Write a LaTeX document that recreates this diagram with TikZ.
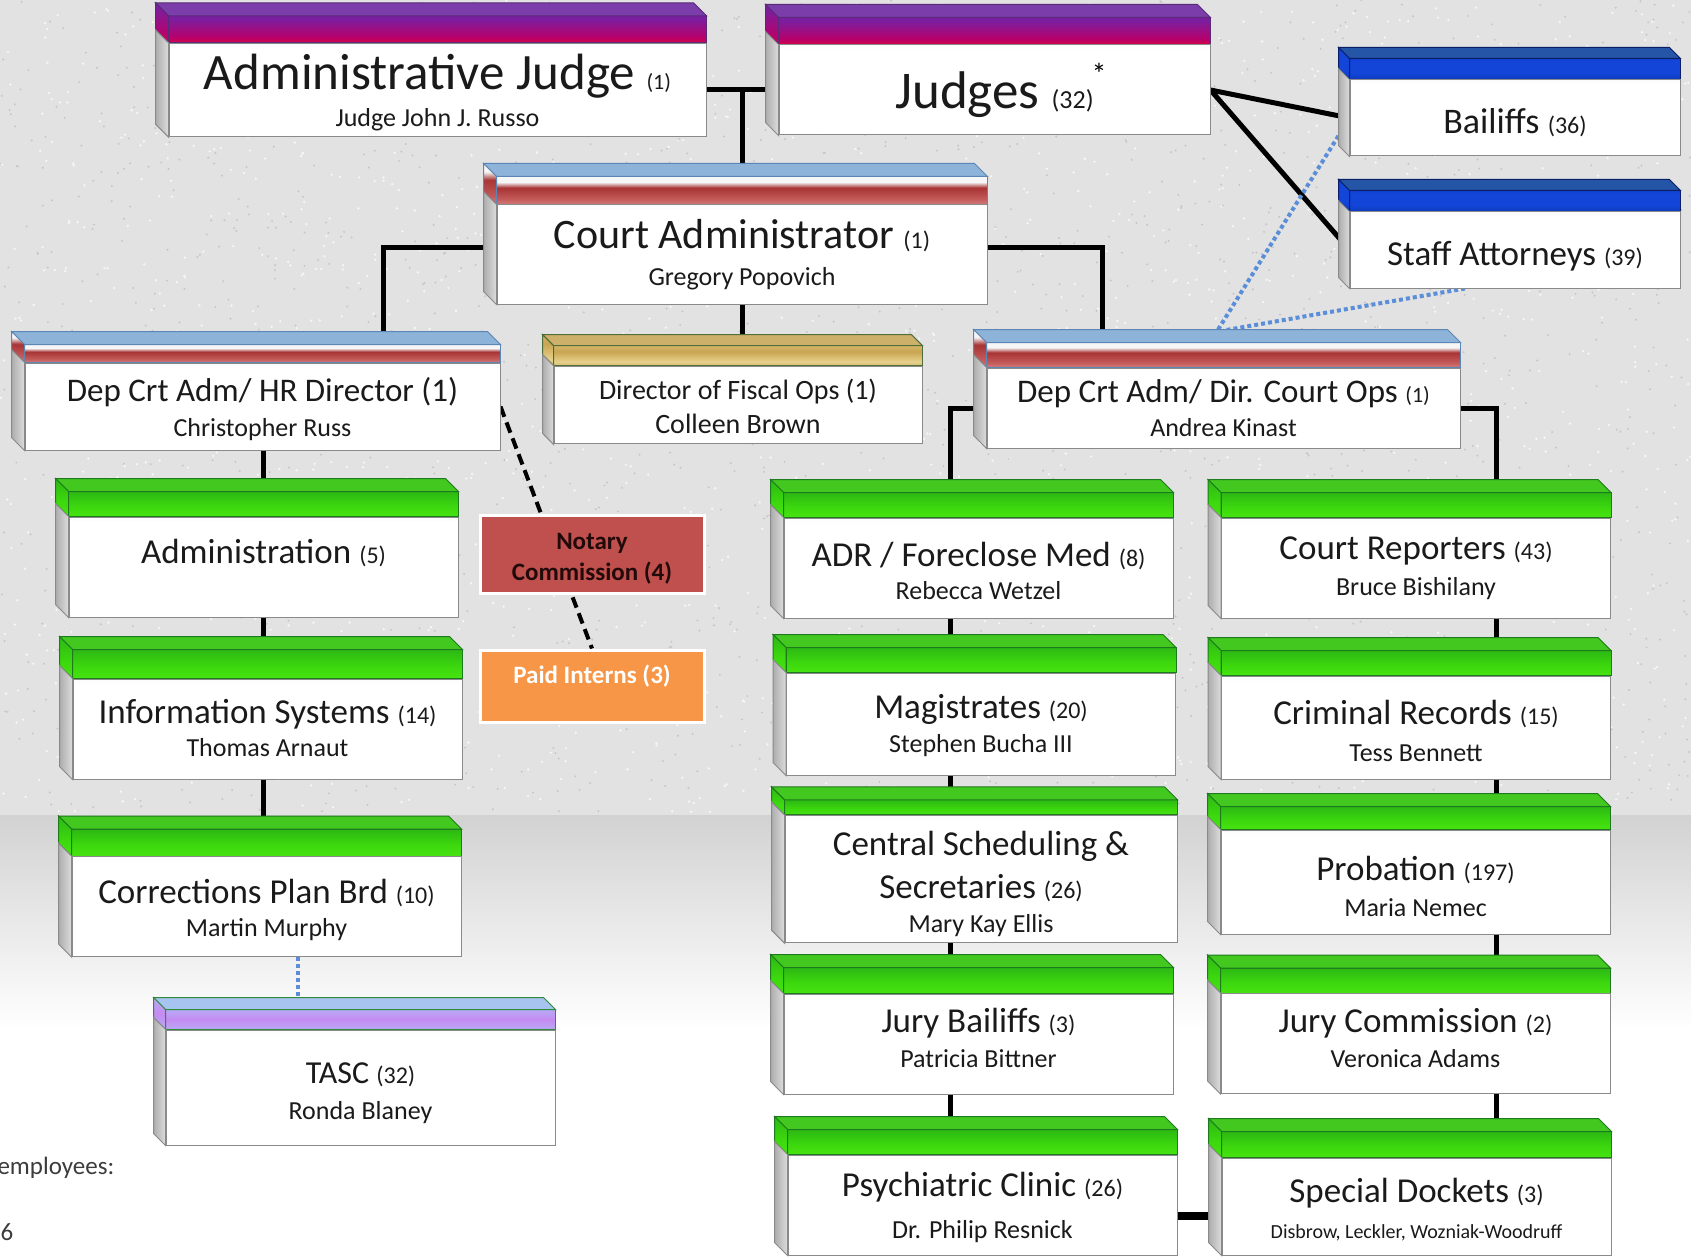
\documentclass[tikz,border=0pt]{standalone}
\usepackage{fontspec}
\setmainfont{Carlito}
\usetikzlibrary{positioning,calc}

\definecolor{granite}{HTML}{E2E2E2}
\definecolor{speckdark}{HTML}{C6C6C6}
\definecolor{specklight}{HTML}{F7F7F7}
\definecolor{lowgrey}{HTML}{D2D2D2}
\definecolor{sidedark}{HTML}{ADADAD}
\definecolor{sidelight}{HTML}{DCDCDC}
\definecolor{boxline}{HTML}{8A8A8A}
\definecolor{bodymid}{HTML}{ECECEC}
\definecolor{bodytop}{HTML}{B8B8B8}
\definecolor{ink}{HTML}{1A1A1A}
\definecolor{dotblue}{HTML}{5A8ED8}
\definecolor{notaryred}{HTML}{C0504D}
\definecolor{notaryink}{HTML}{220A0A}
\definecolor{internorange}{HTML}{F79646}
% header colours
\definecolor{judgeA}{HTML}{E8401C}\definecolor{judgeB}{HTML}{FF0A0A}
\definecolor{judgeC}{HTML}{B8006A}\definecolor{judgeD}{HTML}{7A1FA0}
\definecolor{judgeface}{HTML}{7B3DAA}\definecolor{judgeedge}{HTML}{5A2A78}
\definecolor{blueA}{HTML}{0A2C8C}\definecolor{blueB}{HTML}{1245D8}
\definecolor{blueC}{HTML}{0A2080}
\definecolor{blueface}{HTML}{2455A6}\definecolor{blueedge}{HTML}{0A1E66}
\definecolor{caA}{HTML}{9CC3E3}\definecolor{caB}{HTML}{EAB4B4}
\definecolor{caC}{HTML}{C45A5A}\definecolor{caD}{HTML}{A83434}
\definecolor{caE}{HTML}{F6F6F6}\definecolor{caF}{HTML}{A3C3E2}
\definecolor{caface}{HTML}{8DB3D8}\definecolor{caedge}{HTML}{5B86B5}
\definecolor{fiscA}{HTML}{A88A3A}\definecolor{fiscB}{HTML}{E6D08A}
\definecolor{fiscC}{HTML}{C9A552}
\definecolor{fiscface}{HTML}{CDB06A}\definecolor{fiscedge}{HTML}{4F6E3A}
\definecolor{greenA}{HTML}{52F012}\definecolor{greenB}{HTML}{3DD80E}
\definecolor{greenC}{HTML}{1E9E18}
\definecolor{greenface}{HTML}{42C81E}\definecolor{greenedge}{HTML}{1E7A1E}
\definecolor{tascA}{HTML}{A9C7F7}\definecolor{tascB}{HTML}{C58BF2}
\definecolor{tascface}{HTML}{A7C3EF}\definecolor{tascedge}{HTML}{2E8B3A}

\pgfdeclareverticalshading{bodyshade}{100bp}{color(0bp)=(white); color(72bp)=(white); color(90bp)=(bodymid); color(100bp)=(bodytop)}
\pgfdeclareverticalshading{judgeband}{100bp}{color(0bp)=(judgeA); color(10bp)=(judgeB); color(35bp)=(judgeC); color(70bp)=(judgeD); color(100bp)=(judgeD)}
\pgfdeclareverticalshading{blueband}{100bp}{color(0bp)=(blueA); color(40bp)=(blueB); color(70bp)=(blueB); color(100bp)=(blueC)}
\pgfdeclareverticalshading{caband}{100bp}{color(0bp)=(caA); color(8bp)=(caB); color(35bp)=(caC); color(55bp)=(caD); color(65bp)=(caE); color(78bp)=(caE); color(100bp)=(caF)}
\pgfdeclareverticalshading{fiscband}{100bp}{color(0bp)=(fiscA); color(35bp)=(fiscB); color(60bp)=(fiscC); color(100bp)=(fiscB)}
\pgfdeclareverticalshading{greenband}{100bp}{color(0bp)=(greenA); color(45bp)=(greenB); color(100bp)=(greenC)}
\pgfdeclareverticalshading{tascband}{100bp}{color(0bp)=(tascA); color(50bp)=(tascB); color(100bp)=(tascA)}

\pgfdeclarelayer{back}
\pgfdeclarelayer{wires}
\pgfsetlayers{back,wires,main}

% header band, top face and left face of a box: node, band, face, edge, band height, depth
\newcommand\orgcube[6]{%
  \shade[shading=#2, draw=#4, line width=1pt]
    (#1.north west) rectangle ([yshift=#5pt]#1.north east);
  \fill[#3, draw=#4, line width=1pt]
    ([yshift=#5pt]#1.north west) -- ([yshift=#5pt]#1.north east)
    -- ([xshift=-#6pt,yshift={#5pt+#6pt}]#1.north east)
    -- ([xshift=-#6pt,yshift={#5pt+#6pt}]#1.north west) -- cycle;
  \shade[shading=#2, draw=#4, line width=1pt]
    (#1.north west) -- ([yshift=#5pt]#1.north west)
    -- ([xshift=-#6pt,yshift={#5pt+#6pt}]#1.north west)
    -- ([xshift=-#6pt,yshift=#6pt]#1.north west) -- cycle;
  \shade[left color=sidedark, right color=sidelight, draw=boxline, line width=1pt]
    (#1.north west) -- ([xshift=-#6pt,yshift=#6pt]#1.north west)
    -- ([xshift=-#6pt,yshift=#6pt]#1.south west) -- (#1.south west) -- cycle;
}
\newcommand\cnt[2][24]{{\fontsize{#1}{#1}\selectfont #2}}
\newcommand\who[2][26]{{\fontsize{#1}{#1}\selectfont #2}}

\begin{document}
\begin{tikzpicture}[x=1pt, y=-1pt,
  box/.style n args={5}{draw=boxline, line width=1pt, inner sep=0pt, align=center,
    shade, shading=bodyshade, text=ink,
    append after command={\pgfextra{\orgcube{\tikzlastnode}{#1}{#2}{#3}{#4}{#5}}}},
  txtpos/.style={text height=#1, text depth=10pt},
  judgebox/.style={box={judgeband}{judgeface}{judgeedge}{27}{13}, minimum height=90pt},
  bluebox/.style={box={blueband}{blueface}{blueedge}{21}{11}, minimum width=330pt, minimum height=76pt,
    font=\fontsize{36}{36}\selectfont},
  cabox/.style={box={caband}{caface}{caedge}{#1}{13}},
  dept/.style={box={greenband}{greenface}{greenedge}{#1}{13}, minimum width=389pt, minimum height=100pt,
    font=\fontsize{35}{33}\selectfont},
  dept/.default=25,
  flat/.style={line width=3pt, draw=white, minimum width=224pt, inner sep=0pt, align=center,
    font=\fontsize{25}{31}\selectfont\bfseries},
  wire/.style={line width=5pt, black},
  dotline/.style={line width=4pt, dotblue, dash pattern=on 4pt off 3pt},
  dashline/.style={line width=4pt, black, dash pattern=on 11pt off 6pt}]

\useasboundingbox (0,0) rectangle (1691,1257);

\begin{pgfonlayer}{back}
\fill[granite] (0,0) rectangle (1691,815);
\pgfmathsetseed{17}
\foreach \i in {1,...,1800} {
  \fill[speckdark] ({rnd*1691},{rnd*812}) circle (1.1pt);
  \fill[specklight] ({rnd*1691},{rnd*812}) circle (1.3pt);
}
\shade[top color=lowgrey, bottom color=white] (0,815) rectangle (1691,1030);
\fill[white] (0,1030) rectangle (1691,1257);
\end{pgfonlayer}

% top row
\node[judgebox, minimum width=537pt, font=\fontsize{51}{37}\selectfont, txtpos=83.4pt] (ajudge) at (437.5,90)
  {Administrative Judge \cnt[22]{(1)}\\ \who{Judge John J. Russo}};
\node[judgebox, minimum width=431pt, font=\fontsize{53}{53}\selectfont, text height=40pt, text depth=2.4pt] (judges) at (994.5,90)
  {Judges \cnt[26]{(32)}};
\node[font=\fontsize{30}{30}\selectfont, text=black] (star) at (1099,74) {*};
\node[bluebox, text height=40pt, text depth=9pt] (bailiffs) at (1515,118) {Bailiffs \cnt{(36)}};
\node[bluebox, font=\fontsize{35}{35}\selectfont, text height=40pt, text depth=8.4pt] (staff) at (1515,250)
  {Staff Attorneys \cnt{(39)}};

% administrators
\node[cabox=28, minimum width=490pt, minimum height=99pt, font=\fontsize{42}{37}\selectfont, txtpos=72.2pt] (cadmin) at (742,254.5)
  {Court Administrator \cnt{(1)}\\ \who{Gregory Popovich}};
\node[cabox=18, minimum width=475pt, minimum height=87pt, font=\fontsize{33}{35.5}\selectfont, txtpos=70pt] (hr) at (262.5,406.5)
  {Dep Crt Adm/ HR Director (1)\\ \who{Christopher Russ}};
\node[box={fiscband}{fiscface}{fiscedge}{20}{11}, minimum width=368pt, minimum height=76pt,
  font=\fontsize{28}{34.5}\selectfont, txtpos=67.8pt] (fiscal) at (738,405) {Director of Fiscal Ops (1)\\ Colleen Brown};
\node[cabox=25, minimum width=473pt, minimum height=80pt, font=\fontsize{33}{34.4}\selectfont, txtpos=67pt] (courtops) at (1223.5,408)
  {Dep Crt Adm/ Dir. Court Ops \cnt[22]{(1)}\\ \who{Andrea Kinast}};

% left column
\node[dept, txtpos=2.6pt] (admin) at (263.5,567) {Administration \cnt{(5)}};
\node[dept=29, txtpos=65.6pt] (infosys) at (267.5,729) {Information Systems \cnt{(14)}\\ \who{Thomas Arnaut}};
\node[dept=27, txtpos=69.2pt] (corrections) at (266.5,906.5) {Corrections Plan Brd \cnt{(10)}\\ \who{Martin Murphy}};
\node[box={tascband}{tascface}{tascedge}{20}{12}, minimum width=389pt, minimum height=115pt,
  font=\fontsize{32}{36}\selectfont, txtpos=73.6pt] (tasc) at (360.5,1087.5) {TASC \cnt{(32)}\\ \who{Ronda Blaney}};
\node[flat, fill=notaryred, text=notaryink, minimum height=78pt, txtpos=62.8pt] (notary) at (592,554) {Notary\\Commission (4)};
\node[flat, fill=internorange, text=white, minimum height=72pt, txtpos=4pt] (interns) at (592,686) {Paid Interns (3)};

% court operations, two columns
\node[dept, txtpos=73.4pt] (adr) at (978.5,568) {ADR / Foreclose Med \cnt{(8)}\\ \who{Rebecca Wetzel}};
\node[dept, minimum height=102pt, font=\fontsize{35}{34}\selectfont, txtpos=67.4pt] (magistrates) at (981,724)
  {Magistrates \cnt{(20)}\\ \who{Stephen Bucha III}};
\node[dept=15, minimum width=392pt, minimum height=114pt, font=\fontsize{35}{43}\selectfont, txtpos=117.4pt] (central) at (981,879)
  {Central Scheduling \&\\ Secretaries \cnt{(26)}\\[-9pt] \who{Mary Kay Ellis}};
\node[dept=26, font=\fontsize{35}{35}\selectfont, txtpos=57pt] (jurybail) at (978.5,1044) {Jury Bailiffs \cnt{(3)}\\ \who{Patricia Bittner}};
\node[dept, font=\fontsize{35}{42.4}\selectfont, txtpos=77.8pt] (psych) at (982.5,1205) {Psychiatric Clinic \cnt{(26)}\\ \who{Dr. Philip Resnick}};
\node[dept, font=\fontsize{35}{36}\selectfont, txtpos=64.2pt] (reporters) at (1416,568) {Court Reporters \cnt{(43)}\\ \who{Bruce Bishilany}};
\node[dept, minimum height=103pt, font=\fontsize{35}{37}\selectfont, txtpos=77.2pt] (criminal) at (1416,727.5)
  {Criminal Records \cnt{(15)}\\ \who{Tess Bennett}};
\node[dept=23, minimum height=104pt, font=\fontsize{35}{36}\selectfont, txtpos=79pt] (probation) at (1415.5,882)
  {Probation \cnt{(197)}\\ \who{Maria Nemec}};
\node[dept, font=\fontsize{35}{35}\selectfont, txtpos=58pt] (jurycomm) at (1415.5,1043.5) {Jury Commission \cnt{(2)}\\ \who{Veronica Adams}};
\node[dept=26, minimum height=97pt, font=\fontsize{35}{36}\selectfont, txtpos=74.8pt] (special) at (1416.5,1206.5)
  {Special Dockets \cnt{(3)}\\ \who[20]{Disbrow, Leckler, Wozniak-Woodruff}};

% cut-off page text
\node[anchor=west, font=\fontsize{25}{25}\selectfont, text=ink!85] (empl) at (-6,1168) {employees:};
\node[anchor=west, font=\fontsize{25}{25}\selectfont, text=ink!85] (six) at (-3,1232) {6};

% column lines
\coordinate (hrcol) at (383,0);
\coordinate (opscol) at (1102,0);
\coordinate (leftcol) at (263,0);
\coordinate (tasccol) at (298,0);
\coordinate (lcol) at (950,0);
\coordinate (rcol) at (1496,0);

\begin{pgfonlayer}{wires}
\path[wire]
(ajudge.east) edge (judges.west) % judges bar
(ajudge.east -| cadmin.north) edge (cadmin.north)
(judges.east) edge (bailiffs.west)
(judges.east) edge (staff.west)
(cadmin.south) edge (cadmin.south |- fiscal.north)
(hr.south -| leftcol) edge (admin.north -| leftcol)
(admin.south -| leftcol) edge (infosys.north -| leftcol)
(infosys.south -| leftcol) edge (corrections.north -| leftcol)
(adr.south -| lcol) edge (magistrates.north -| lcol)
(magistrates.south -| lcol) edge (central.north -| lcol)
(central.south -| lcol) edge (jurybail.north -| lcol)
(jurybail.south -| lcol) edge (psych.north -| lcol)
(reporters.south -| rcol) edge (criminal.north -| rcol)
(criminal.south -| rcol) edge (probation.north -| rcol)
(probation.south -| rcol) edge (jurycomm.north -| rcol)
(jurycomm.south -| rcol) edge (special.north -| rcol);
\draw[wire] ([yshift=7pt]cadmin.west) -| (hr.north -| hrcol); % to HR
\draw[wire] ([yshift=7pt]cadmin.east) -| (courtops.north -| opscol); % to court ops
\draw[wire] (courtops.west) -| (adr.north -| lcol);
\draw[wire] (courtops.east) -| (reporters.north -| rcol);
\draw[wire, line width=8pt] ([yshift=-11pt]psych.east) -- ([yshift=-11pt]psych.east -| special.west);
\draw[dotline] (bailiffs.west) -- ([xshift=-6pt,yshift=37pt]courtops.north);
\draw[dotline] ([xshift=-50pt]staff.south) -- ([yshift=37pt]courtops.north);
\draw[dotline, line width=3.5pt, dash pattern=on 3.5pt off 3.5pt] (corrections.south -| tasccol) -- (tasc.north -| tasccol);
\draw[dashline] (hr.east) -- (interns.north); % runs behind the notary box
\end{pgfonlayer}
\end{tikzpicture}
\end{document}
